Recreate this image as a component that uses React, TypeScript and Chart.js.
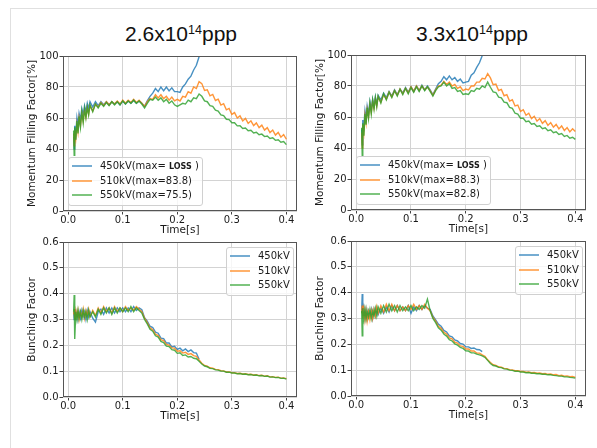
import React, { useEffect, useRef } from 'react';
import { Chart, registerables } from 'chart.js';

Chart.register(...registerables);

// ---------------- data ----------------
const time = [
  0.010, 0.011, 0.012, 0.014, 0.016, 0.018, 0.020, 0.0225, 0.025, 0.0275,
  0.030, 0.0325, 0.035, 0.0375, 0.040, 0.045, 0.050, 0.055, 0.060, 0.065,
  0.070, 0.075, 0.080, 0.085, 0.090, 0.095, 0.100, 0.105, 0.110, 0.115,
  0.120, 0.125, 0.130, 0.135, 0.140, 0.145, 0.150, 0.155, 0.160, 0.165,
  0.170, 0.175, 0.180, 0.185, 0.190, 0.195, 0.200, 0.205, 0.210, 0.215,
  0.220, 0.225, 0.230, 0.235, 0.240, 0.245, 0.250, 0.255, 0.260, 0.265,
  0.270, 0.275, 0.280, 0.285, 0.290, 0.295, 0.300, 0.305, 0.310, 0.315,
  0.320, 0.325, 0.330, 0.335, 0.340, 0.345, 0.350, 0.355, 0.360, 0.365,
  0.370, 0.375, 0.380, 0.385, 0.390, 0.395, 0.400,
];

const seriesNames = ['450kV', '510kV', '550kV'];

// Momentum filling factor [%], 2.6x10^14 ppp
const mff26_450 = [
  48, 40, 55, 50, 60, 55, 63, 59, 66, 62,
  68, 64, 69.5, 66, 70.5, 67, 70.5, 68, 70.5, 68.5,
  70.5, 68.5, 70.5, 69, 70.5, 68.5, 71, 69, 71, 69.5,
  71.5, 69.5, 71, 69.5, 67.5, 71, 74, 76, 79, 77,
  80, 77.5, 80, 77.5, 79.5, 77, 77, 76.5, 80, 82,
  85, 87, 91, 94, 99.5,
];
const mff26_510 = [
  50, 42, 52, 47, 56, 51, 60, 55, 63, 58,
  65, 60.5, 66.5, 62.5, 68, 64.5, 69, 67, 70, 68,
  70.5, 68.5, 70.5, 69, 71, 69, 71.5, 69.5, 71.5, 70,
  72, 70, 71.5, 69.5, 67.5, 70.5, 72.5, 72, 75, 73,
  75, 72.5, 74, 71.5, 73.5, 71, 72, 71, 74, 73.5,
  77, 76, 80, 79, 83.5, 82.2, 77.8, 78.2, 74.3, 75.2,
  71.3, 72.2, 68.3, 69.2, 65.3, 66.2, 62.3, 63.5, 60.0, 61.4,
  58.1, 59.7, 56.5, 58.2, 55.1, 56.8, 53.8, 55.4, 52.2, 53.8,
  50.6, 52.2, 49.0, 50.7, 47.6, 49.3, 46.3,
];
const mff26_550 = [
  52, 36, 54, 46, 58, 50, 61, 54, 64, 57,
  66, 60, 67, 62, 68.5, 64, 69, 66.5, 69.5, 67.5,
  70, 68, 70.5, 68.5, 70.5, 68.5, 71, 69, 71, 69.5,
  71.5, 69.5, 71, 69, 66.5, 69.5, 72, 71.5, 73.5, 71.5,
  73, 70.5, 72, 69.5, 71, 68.5, 67.5, 68.5, 69.5, 69,
  71.5, 70.5, 73, 72.5, 75.5, 74.0, 71.0, 70.5, 68.0, 67.5,
  65.0, 64.5, 62.0, 61.5, 59.2, 59.0, 56.9, 56.9, 54.9, 55.0,
  53.2, 53.5, 51.8, 52.1, 50.4, 50.8, 49.2, 49.6, 48.0, 48.4,
  46.8, 47.2, 45.6, 46.0, 44.4, 44.8, 42.8,
];

// Momentum filling factor [%], 3.3x10^14 ppp
const mff33_450 = [
  52, 42, 58, 54, 64, 59, 67, 62, 70, 65,
  71.5, 67, 73, 68.5, 74, 71, 75.5, 72.5, 76.5, 73.5,
  77.5, 74.5, 78, 75.5, 79, 76, 79.5, 76.5, 80, 77,
  80.5, 77.5, 80, 77.5, 74.5, 78, 81.5, 83, 86, 84,
  86.5, 84, 85.5, 83, 84.5, 82, 82.5, 83, 87, 88.5,
  92, 95, 99.5,
];
const mff33_510 = [
  50, 40, 55, 50, 61, 56, 65, 60, 68, 63,
  70, 65.5, 71.5, 67, 73, 69.5, 74.5, 71.5, 76, 73,
  77, 74, 78, 75, 78.5, 75.5, 79.5, 76.5, 80, 77,
  80, 77.5, 79.5, 77, 74, 77.5, 80, 80.5, 83, 81,
  82.5, 80, 81, 78.5, 79.5, 77, 78, 77.5, 80, 80,
  82.5, 82.5, 85, 84.5, 88, 85.2, 80.8, 81.2, 77.1, 77.8,
  73.7, 74.4, 70.3, 71.1, 67.1, 67.7, 63.6, 64.7, 61.1, 62.4,
  59.0, 60.5, 57.3, 59.0, 55.9, 57.6, 54.6, 56.4, 53.4, 55.2,
  52.3, 54.2, 51.3, 53.2, 50.4, 52.4, 50.6,
];
const mff33_550 = [
  53, 35, 56, 48, 62, 55, 66, 59, 69, 62,
  71, 65, 72.5, 66.5, 73.5, 69, 75, 71, 76, 72.5,
  77, 73.5, 78, 74.5, 78.5, 75, 79, 76, 79.5, 76.5,
  80, 77, 79.5, 76.5, 73.5, 77, 79.5, 80, 82.5, 80,
  81.5, 78.5, 79, 76.5, 77, 74.5, 75, 74.5, 77, 76.5,
  78.5, 78, 80, 79, 82.5, 79.2, 76.2, 75.8, 72.8, 72.4,
  69.6, 69.2, 66.2, 65.6, 62.4, 61.8, 59.2, 59.2, 57.0, 57.4,
  55.3, 55.8, 53.9, 54.3, 52.5, 53.0, 51.2, 51.7, 49.9, 50.5,
  48.7, 49.3, 47.5, 48.1, 46.3, 46.9, 45.6,
];

// Bunching factor, 2.6x10^14 ppp
const bf26_450 = [
  0.33, 0.30, 0.34, 0.31, 0.33, 0.30, 0.33, 0.305, 0.335, 0.31,
  0.33, 0.30, 0.335, 0.31, 0.33, 0.305, 0.29, 0.33, 0.34, 0.32,
  0.345, 0.325, 0.345, 0.325, 0.345, 0.33, 0.345, 0.33, 0.345, 0.33,
  0.35, 0.335, 0.345, 0.338, 0.307, 0.294, 0.274, 0.269, 0.251, 0.247,
  0.228, 0.226, 0.209, 0.209, 0.194, 0.196, 0.184, 0.189, 0.179, 0.186,
  0.176, 0.182, 0.172, 0.17, 0.146,
];
const bf26_510 = [
  0.32, 0.34, 0.30, 0.335, 0.31, 0.335, 0.30, 0.33, 0.31, 0.34,
  0.305, 0.335, 0.315, 0.34, 0.31, 0.335, 0.315, 0.345, 0.325, 0.35,
  0.33, 0.345, 0.325, 0.35, 0.33, 0.345, 0.33, 0.35, 0.335, 0.345,
  0.335, 0.35, 0.34, 0.33, 0.305, 0.288, 0.268, 0.26, 0.243, 0.238,
  0.222, 0.218, 0.204, 0.201, 0.19, 0.189, 0.177, 0.179, 0.17, 0.173,
  0.165, 0.168, 0.16, 0.157, 0.143, 0.131, 0.122, 0.119, 0.113, 0.112,
  0.107, 0.106, 0.102, 0.101, 0.097, 0.097, 0.094, 0.094, 0.091, 0.092,
  0.089, 0.09, 0.087, 0.088, 0.085, 0.086, 0.083, 0.084, 0.081, 0.082,
  0.078, 0.079, 0.076, 0.077, 0.073, 0.074, 0.071,
];
const bf26_550 = [
  0.33, 0.395, 0.225, 0.33, 0.30, 0.335, 0.305, 0.33, 0.30, 0.335,
  0.31, 0.33, 0.30, 0.335, 0.31, 0.33, 0.31, 0.34, 0.32, 0.345,
  0.325, 0.345, 0.32, 0.345, 0.325, 0.345, 0.33, 0.345, 0.33, 0.35,
  0.33, 0.345, 0.335, 0.325, 0.3, 0.283, 0.262, 0.255, 0.237, 0.232,
  0.215, 0.211, 0.197, 0.195, 0.183, 0.181, 0.169, 0.171, 0.161, 0.163,
  0.155, 0.157, 0.15, 0.148, 0.138, 0.128, 0.12, 0.117, 0.111, 0.11,
  0.105, 0.104, 0.1, 0.1, 0.096, 0.096, 0.093, 0.093, 0.09, 0.091,
  0.088, 0.089, 0.086, 0.087, 0.084, 0.085, 0.082, 0.083, 0.08, 0.081,
  0.077, 0.078, 0.075, 0.076, 0.072, 0.073, 0.069,
];

// Bunching factor, 3.3x10^14 ppp
const bf33_450 = [
  0.33, 0.395, 0.31, 0.34, 0.30, 0.335, 0.30, 0.33, 0.31, 0.335,
  0.30, 0.335, 0.31, 0.34, 0.315, 0.34, 0.32, 0.345, 0.325, 0.35,
  0.33, 0.35, 0.33, 0.345, 0.33, 0.35, 0.32, 0.345, 0.33, 0.35,
  0.335, 0.35, 0.34, 0.335, 0.31, 0.295, 0.278, 0.27, 0.254, 0.248,
  0.233, 0.229, 0.217, 0.213, 0.203, 0.201, 0.19, 0.19, 0.184, 0.186,
  0.18, 0.179, 0.172,
];
const bf33_510 = [
  0.32, 0.35, 0.30, 0.335, 0.295, 0.33, 0.29, 0.325, 0.295, 0.33,
  0.30, 0.335, 0.31, 0.345, 0.32, 0.35, 0.325, 0.355, 0.33, 0.355,
  0.33, 0.35, 0.33, 0.345, 0.33, 0.35, 0.335, 0.355, 0.335, 0.35,
  0.335, 0.355, 0.34, 0.33, 0.305, 0.29, 0.27, 0.262, 0.246, 0.24,
  0.225, 0.221, 0.208, 0.205, 0.194, 0.192, 0.182, 0.182, 0.174, 0.174,
  0.166, 0.166, 0.159, 0.154, 0.14, 0.13, 0.121, 0.118, 0.113, 0.112,
  0.107, 0.106, 0.102, 0.101, 0.098, 0.098, 0.095, 0.095, 0.092, 0.093,
  0.09, 0.091, 0.088, 0.089, 0.086, 0.087, 0.084, 0.085, 0.082, 0.083,
  0.079, 0.08, 0.077, 0.078, 0.075, 0.076, 0.072,
];
const bf33_550 = [
  0.33, 0.233, 0.34, 0.30, 0.335, 0.30, 0.33, 0.305, 0.335, 0.30,
  0.33, 0.31, 0.34, 0.31, 0.345, 0.32, 0.35, 0.325, 0.355, 0.33,
  0.35, 0.325, 0.35, 0.33, 0.345, 0.33, 0.35, 0.33, 0.345, 0.335,
  0.35, 0.34, 0.375, 0.33, 0.3, 0.284, 0.264, 0.255, 0.24, 0.232,
  0.218, 0.213, 0.202, 0.197, 0.188, 0.184, 0.175, 0.174, 0.167, 0.167,
  0.162, 0.159, 0.155, 0.15, 0.138, 0.126, 0.118, 0.116, 0.111, 0.11,
  0.105, 0.104, 0.1, 0.099, 0.096, 0.096, 0.093, 0.093, 0.09, 0.091,
  0.088, 0.088, 0.086, 0.086, 0.084, 0.084, 0.082, 0.082, 0.08, 0.079,
  0.077, 0.077, 0.074, 0.074, 0.072, 0.071, 0.069,
];

const xTicks = [0.0, 0.1, 0.2, 0.3, 0.4];
const yTicksMff = [0, 20, 40, 60, 80, 100];
const yTicksBf = [0.0, 0.1, 0.2, 0.3, 0.4, 0.5, 0.6];

const legendMff26 = ['450kV(max= LOSS )', '510kV(max=83.8)', '550kV(max=75.5)'];
const legendMff33 = ['450kV(max= LOSS )', '510kV(max=88.3)', '550kV(max=82.8)'];
const legendBf = ['450kV', '510kV', '550kV'];

const titleMantissas = ['2.6', '3.3'];
const titleExponent = '14';

// ---------------- styling ----------------
const X_MIN = -0.0095;
const X_MAX = 0.4195;
const colors = ['rgba(31,119,180,0.82)', 'rgba(255,127,14,0.82)', 'rgba(44,160,44,0.82)'];
const textColor = '#1a1a1a';
const gridColor = '#d3d3d3';
const spineColor = '#555';
const tickFont = { family: 'DejaVu Sans', size: 10 };
const labelFont = { family: 'DejaVu Sans', size: 10.5 };

const AXIS_W = 58;
const PAD_T = 10;
const PAD_R = 12;
const AXIS_H = 30;

function roundRectPath(ctx: CanvasRenderingContext2D, x: number, y: number, w: number, h: number, r: number) {
  ctx.beginPath();
  ctx.moveTo(x + r, y);
  ctx.arcTo(x + w, y, x + w, y + h, r);
  ctx.arcTo(x + w, y + h, x, y + h, r);
  ctx.arcTo(x, y + h, x, y, r);
  ctx.arcTo(x, y, x + w, y, r);
  ctx.closePath();
}

const framePlugin = {
  id: 'frameSpines',
  afterDatasetsDraw(chart: any) {
    const { ctx, chartArea: ca } = chart;
    ctx.save();
    ctx.strokeStyle = spineColor;
    ctx.lineWidth = 1;
    ctx.strokeRect(Math.round(ca.left) + 0.5, Math.round(ca.top) + 0.5, Math.round(ca.right - ca.left) - 1, Math.round(ca.bottom - ca.top) - 1);
    ctx.restore();
  },
};

const boxLegend = {
  id: 'boxLegend',
  afterDatasetsDraw(chart: any, _args: any, opts: any) {
    const { ctx, chartArea: ca } = chart;
    const labels: string[] = opts.labels || [];
    const normal = '10px "DejaVu Sans"';
    const bold = 'bold 8px "DejaVu Sans"';
    const parts = (s: string): [string, string][] => {
      const k = s.indexOf('LOSS');
      if (k < 0) return [[s, normal]];
      return [[s.slice(0, k), normal], ['LOSS', bold], [s.slice(k + 4), normal]];
    };
    ctx.save();
    const measure = (s: string) =>
      parts(s).reduce((acc, [t, f]) => {
        ctx.font = f;
        return acc + ctx.measureText(t).width;
      }, 0);
    const textW = Math.max(...labels.map(measure));
    const rowH = 14.5;
    const w = Math.round(32 + textW + 3);
    const h = 48;
    const x = opts.loc === 'lowerLeft' ? Math.round(ca.left + 5) : Math.round(ca.right - 4 - w);
    const y = opts.loc === 'lowerLeft' ? Math.round(ca.bottom - 6 - h) : Math.round(ca.top + 5);
    roundRectPath(ctx, x + 0.5, y + 0.5, w, h, 2.5);
    ctx.fillStyle = 'rgba(255,255,255,0.8)';
    ctx.fill();
    ctx.strokeStyle = '#d0d0d0';
    ctx.lineWidth = 1;
    ctx.stroke();
    labels.forEach((lab, i) => {
      const cy = Math.round(y + 9 + i * rowH);
      ctx.strokeStyle = chart.data.datasets[i].borderColor;
      ctx.lineWidth = 1.5;
      ctx.beginPath();
      ctx.moveTo(x + 4, cy);
      ctx.lineTo(x + 24, cy);
      ctx.stroke();
      let tx = x + 32;
      ctx.textBaseline = 'middle';
      ctx.textAlign = 'left';
      ctx.fillStyle = textColor;
      parts(lab).forEach(([t, f]) => {
        ctx.font = f;
        ctx.fillText(t, tx, cy + 0.5);
        tx += ctx.measureText(t).width;
      });
    });
    ctx.restore();
  },
};

type Rect = { L: number; T: number; R: number; B: number };
type PanelProps = {
  rect: Rect;
  series: number[][];
  yMin: number;
  yMax: number;
  yTicks: number[];
  yDecimals: number;
  yTitle: string;
  legend: string[];
  legendLoc: 'lowerLeft' | 'upperRight';
};

function Panel(p: PanelProps) {
  const ref = useRef<HTMLCanvasElement>(null);
  const w = p.rect.R - p.rect.L + AXIS_W + PAD_R;
  const h = p.rect.B - p.rect.T + PAD_T + AXIS_H;

  useEffect(() => {
    if (!ref.current) return;
    const chart = new Chart(ref.current, {
      type: 'line',
      data: {
        datasets: p.series.map((vals, i) => ({
          label: seriesNames[i],
          data: vals.map((v, j) => ({ x: time[j], y: v })),
          borderColor: colors[i],
          backgroundColor: colors[i],
          borderWidth: 1.4,
          pointRadius: 0,
          tension: 0,
          order: 2 - i,
        })),
      },
      options: {
        responsive: false,
        animation: false,
        events: [],
        layout: { padding: { left: 0, top: PAD_T, right: PAD_R, bottom: 0 } },
        plugins: {
          legend: { display: false },
          tooltip: { enabled: false },
          boxLegend: { labels: p.legend, loc: p.legendLoc },
        } as any,
        scales: {
          x: {
            type: 'linear',
            min: X_MIN,
            max: X_MAX,
            afterFit: (s: any) => {
              s.height = AXIS_H;
            },
            afterBuildTicks: (s: any) => {
              s.ticks = xTicks.map((v) => ({ value: v }));
            },
            ticks: {
              callback: (v: any) => Number(v).toFixed(1),
              font: tickFont,
              color: textColor,
              padding: 0,
              maxRotation: 0,
              autoSkip: false,
            },
            grid: { color: gridColor, lineWidth: 1, drawTicks: true, tickLength: 3.5, tickColor: '#444', tickWidth: 1 },
            border: { display: false },
            title: { display: true, text: 'Time[s]', font: labelFont, color: textColor, padding: { top: 0, bottom: 4 } },
          },
          y: {
            type: 'linear',
            min: p.yMin,
            max: p.yMax,
            afterFit: (s: any) => {
              s.width = AXIS_W;
            },
            afterBuildTicks: (s: any) => {
              s.ticks = p.yTicks.map((v) => ({ value: v }));
            },
            ticks: {
              callback: (v: any) => Number(v).toFixed(p.yDecimals),
              font: tickFont,
              color: textColor,
              padding: 1,
              autoSkip: false,
            },
            grid: { color: gridColor, lineWidth: 1, drawTicks: true, tickLength: 3.5, tickColor: '#444', tickWidth: 1 },
            border: { display: false },
            title: { display: true, text: p.yTitle, font: labelFont, color: textColor, padding: { top: 20.5, bottom: 0 } },
          },
        },
      },
      plugins: [framePlugin, boxLegend],
    } as any);
    return () => chart.destroy();
  }, []);

  return (
    <canvas
      ref={ref}
      width={w}
      height={h}
      style={{ position: 'absolute', left: p.rect.L - AXIS_W, top: p.rect.T - PAD_T, width: w, height: h }}
    />
  );
}

function Title({ cx, mantissa }: { cx: number; mantissa: string }) {
  return (
    <div
      style={{
        position: 'absolute',
        left: cx - 150,
        top: 21.5,
        width: 300,
        textAlign: 'center',
        fontFamily: '"Liberation Sans", Arial, sans-serif',
        fontSize: 21,
        lineHeight: '24px',
        color: '#111',
        whiteSpace: 'nowrap',
      }}
    >
      {mantissa}x10
      <span style={{ fontSize: 12.5, verticalAlign: '7.5px', lineHeight: 0 }}>{titleExponent}</span>
      ppp
    </div>
  );
}

export default function App() {
  return (
    <div style={{ position: 'absolute', left: 0, top: 0, width: 597, height: 448, background: '#fff', overflow: 'hidden' }}>
      <div
        style={{
          position: 'absolute',
          left: 10,
          top: 8,
          width: 600,
          height: 460,
          borderTop: '1px solid #e0e0e0',
          borderLeft: '1px solid #e0e0e0',
        }}
      />
      <Title cx={181} mantissa={titleMantissas[0]} />
      <Title cx={472} mantissa={titleMantissas[1]} />
      <Panel
        rect={{ L: 63, T: 56, R: 297, B: 211 }}
        series={[mff26_450, mff26_510, mff26_550]}
        yMin={0}
        yMax={100}
        yTicks={yTicksMff}
        yDecimals={0}
        yTitle="Momentum Filling Factor[%]"
        legend={legendMff26}
        legendLoc="lowerLeft"
      />
      <Panel
        rect={{ L: 351, T: 55, R: 586, B: 210 }}
        series={[mff33_450, mff33_510, mff33_550]}
        yMin={0}
        yMax={100}
        yTicks={yTicksMff}
        yDecimals={0}
        yTitle="Momentum Filling Factor[%]"
        legend={legendMff33}
        legendLoc="lowerLeft"
      />
      <Panel
        rect={{ L: 63, T: 242, R: 297, B: 397 }}
        series={[bf26_450, bf26_510, bf26_550]}
        yMin={0}
        yMax={0.6}
        yTicks={yTicksBf}
        yDecimals={1}
        yTitle="Bunching Factor"
        legend={legendBf}
        legendLoc="upperRight"
      />
      <Panel
        rect={{ L: 351, T: 241, R: 586, B: 396 }}
        series={[bf33_450, bf33_510, bf33_550]}
        yMin={0}
        yMax={0.6}
        yTicks={yTicksBf}
        yDecimals={1}
        yTitle="Bunching Factor"
        legend={legendBf}
        legendLoc="upperRight"
      />
    </div>
  );
}
